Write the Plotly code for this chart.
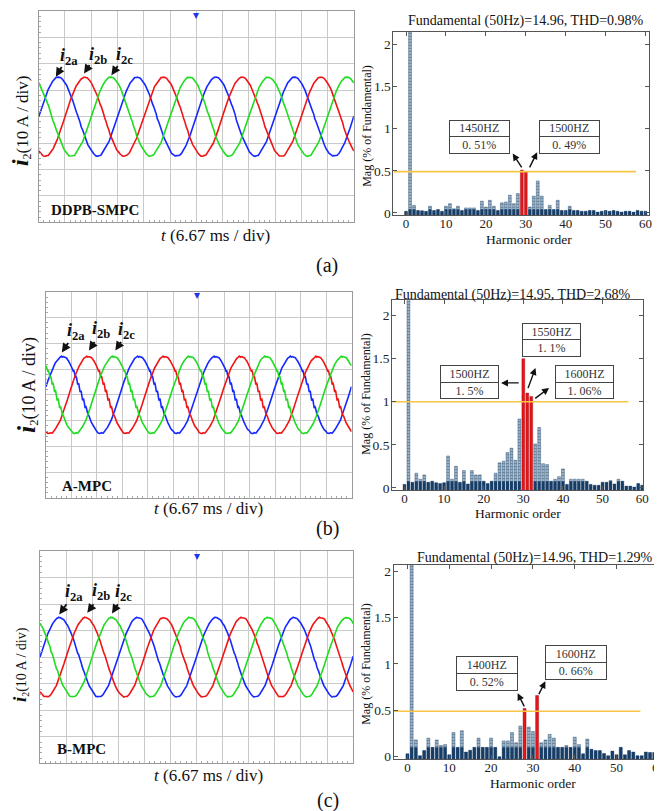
import numpy as np
import plotly.graph_objects as go

W, H = 662, 811

# ---------------- data ----------------
harmonic_order = list(range(61))

mag_a = [0.02, 100, 0.09, 0.03, 0.025, 0.02, 0.08, 0.03, 0.04, 0.02,
         0.08, 0.11, 0.05, 0.08, 0.03, 0.06, 0.06, 0.06, 0.03, 0.14,
         0.07, 0.15, 0.08, 0.03, 0.12, 0.13, 0.21, 0.11, 0.23, 0.51,
         0.49, 0.07, 0.20, 0.38, 0.20, 0.04, 0.09, 0.04, 0.15, 0.03,
         0.03, 0.08, 0.03, 0.03, 0.02, 0.02, 0.03, 0.03, 0.01, 0.02,
         0.03, 0.02, 0.03, 0.02, 0.01, 0.02, 0.02, 0.01, 0.03, 0.02, 0.02]

mag_b = [0.04, 100, 0.065, 0.17, 0.10, 0.15, 0.065, 0.077, 0.06, 0.05,
         0.06, 0.37, 0.10, 0.25, 0.065, 0.20, 0.045, 0.20, 0.15, 0.15,
         0.077, 0.05, 0.077, 0.17, 0.29, 0.31, 0.41, 0.46, 0.32, 0.80,
         1.50, 1.10, 1.06, 0.51, 0.70, 0.28, 0.27, 0.077, 0.10, 0.13,
         0.22, 0.04, 0.10, 0.10, 0.10, 0.10, 0.077, 0.04, 0.03, 0.03,
         0.065, 0.065, 0.085, 0.045, 0.10, 0.077, 0.02, 0.02, 0.01, 0.05, 0.03]

mag_c = [0.03, 100, 0.18, 0.01, 0.065, 0.20, 0.10, 0.18, 0.12, 0.13,
         0.02, 0.26, 0.10, 0.28, 0.05, 0.07, 0.10, 0.20, 0.10, 0.10,
         0.20, 0.10, 0.0, 0.17, 0.17, 0.26, 0.15, 0.33, 0.52, 0.32,
         0.27, 0.66, 0.15, 0.18, 0.24, 0.20, 0.10, 0.10, 0.12, 0.10,
         0.21, 0.13, 0.03, 0.19, 0.08, 0.065, 0.065, 0.035, 0.01, 0.06,
         0.02, 0.10, 0.02, 0.065, 0.05, 0.01, 0.01, 0.05, 0.045, 0.045, 0.045]

highlight_a = [29, 30]
highlight_b = [30, 31, 32]
highlight_c = [28, 31]

titles = ["Fundamental (50Hz)=14.96, THD=0.98%",
          "Fundamental (50Hz)=14.95, THD=2.68%",
          "Fundamental (50Hz)=14.96, THD=1.29%"]
fund_amp = [14.96, 14.95, 14.96]        # A (peak)
fund_freq = 50.0                         # Hz
phase_lead_ms = [0.0, 0.67, 0.0]         # waveform start offset read from scope
limit_level = [0.49, 1.0, 0.49]          # orange reference line (% of fund.)
limit_end = [57.6, 56.5, 55.7]           # harmonic where the line stops

callouts_a = [("1450HZ", "0. 51%"), ("1500HZ", "0. 49%")]
callouts_b = [("1550HZ", "1. 1%"), ("1500HZ", "1. 5%"), ("1600HZ", "1. 06%")]
callouts_c = [("1400HZ", "0. 52%"), ("1600HZ", "0. 66%")]

method_names = ["DDPB-SMPC", "A-MPC", "B-MPC"]
panel_tags = ["(a)", "(b)", "(c)"]
scope_time_div = 6.67   # ms/div
scope_amp_div = 10      # A/div

# ---------------- layout geometry (pixels) ----------------
def px(x0, x1):
    return [x0 / W, x1 / W]

def py(top, bottom):
    return [1 - bottom / H, 1 - top / H]

scope_box = [(31, 349, 2, 215), (38.3, 346.7, 285, 492.7), (32.3, 348.3, 546, 760)]
spec_box = [(389, 647, 23, 208), (387.7, 641, 293.3, 485), (389.3, 659.3, 560, 756)]
spec_xrange = [(-3.15, 60.9), (-3.1, 60.25), (-3.27, 60.7)]
spec_yrange = [(-0.03, 2.15), (-0.03, 2.18), (-0.03, 2.07)]
dark_floor = [0.045, 0.077, 0.10]

SERIF = "Liberation Serif"
fig = go.Figure()

# ---------------- oscilloscope panels ----------------
t = np.linspace(0, 12 * scope_time_div, 3201)   # ms
mags = [mag_a, mag_b, mag_c]
period = 1000.0 / fund_freq
colors = ["#1428ff", "#f01414", "#1edc1e"]

def phase_current(tt, k):
    A = fund_amp[k]
    w = 2 * np.pi * fund_freq / 1000.0
    y = A * np.sin(w * tt)
    for h in harmonic_order[2:]:
        ph = np.pi * h * h / 61.0
        y = y + A * mags[k][h] / 100.0 * np.sin(h * w * tt + ph)
    return y

for k in range(3):
    ax_id = 2 * k + 1
    xa = "x" if ax_id == 1 else f"x{ax_id}"
    ya = "y" if ax_id == 1 else f"y{ax_id}"
    tt = t + phase_lead_ms[k]
    for p, col in enumerate(colors):
        yv = phase_current(tt - p * period / 3.0, k)
        fig.add_trace(go.Scatter(x=t, y=yv, mode="lines",
                                 line=dict(color=col, width=1.6),
                                 xaxis=xa, yaxis=ya, showlegend=False,
                                 hoverinfo="skip"))

# ---------------- spectrum panels ----------------
hl = [highlight_a, highlight_b, highlight_c]
for k in range(3):
    ax_id = 2 * k + 2
    xa, ya = f"x{ax_id}", f"y{ax_id}"
    base = spec_yrange[k][0]
    vals = mags[k]
    cols = ["#e8141a" if h in hl[k] else "#9fbfdc" for h in harmonic_order]
    shapes_p = ["" if h in hl[k] else "-" for h in harmonic_order]
    lines_c = ["#8a0c0c" if h in hl[k] else "#1c3f66" for h in harmonic_order]
    fig.add_trace(go.Bar(x=harmonic_order, y=[v - base for v in vals], base=base,
                         width=0.72, xaxis=xa, yaxis=ya, showlegend=False,
                         marker=dict(color=cols,
                                     line=dict(color=lines_c, width=0.4),
                                     pattern=dict(shape=shapes_p, fgcolor="#2a5680",
                                                  bgcolor="#b9d0e6", size=3,
                                                  solidity=0.45)),
                         hoverinfo="skip"))
    dark = [0 if h in hl[k] else min(v, dark_floor[k]) - base
            for h, v in zip(harmonic_order, vals)]
    fig.add_trace(go.Bar(x=harmonic_order, y=dark, base=base, width=0.72,
                         xaxis=xa, yaxis=ya, showlegend=False,
                         marker=dict(color="#173d66", line=dict(width=0)),
                         hoverinfo="skip"))
    fig.add_trace(go.Scatter(x=[spec_xrange[k][0], limit_end[k]],
                             y=[limit_level[k], limit_level[k]], mode="lines",
                             line=dict(color="#f7c646", width=1.6),
                             xaxis=xa, yaxis=ya, showlegend=False, hoverinfo="skip"))

layout = dict(width=W, height=H, margin=dict(l=0, r=0, t=0, b=0),
              paper_bgcolor="white", plot_bgcolor="white", barmode="overlay",
              font=dict(family=SERIF, color="#111"))

for k in range(3):
    x0, x1, y0, y1 = scope_box[k]
    n = 2 * k + 1
    xn = "xaxis" if n == 1 else f"xaxis{n}"
    yn = "yaxis" if n == 1 else f"yaxis{n}"
    layout[xn] = dict(domain=px(x0, x1), range=[0, 12 * scope_time_div],
                      anchor="y" if n == 1 else f"y{n}",
                      dtick=scope_time_div, tick0=0, showgrid=True,
                      gridcolor="#c9c9c9", gridwidth=1, zeroline=False,
                      showticklabels=False, showline=True, mirror=True,
                      linecolor="#9a9a9a", linewidth=1, ticks="inside",
                      ticklen=0,
                      minor=dict(dtick=scope_time_div / 5, ticks="inside",
                                 ticklen=2, tickcolor="#a8a8a8", showgrid=False))
    layout[yn] = dict(domain=py(y0, y1), range=[-4 * scope_amp_div, 4 * scope_amp_div],
                      anchor="x" if n == 1 else f"x{n}",
                      dtick=scope_amp_div, tick0=0, showgrid=True,
                      gridcolor="#c9c9c9", gridwidth=1, zeroline=False,
                      showticklabels=False, showline=True, mirror=True,
                      linecolor="#9a9a9a", linewidth=1, ticks="inside",
                      ticklen=0,
                      minor=dict(dtick=scope_amp_div / 5, ticks="inside",
                                 ticklen=2, tickcolor="#a8a8a8", showgrid=False))

for k in range(3):
    x0, x1, y0, y1 = spec_box[k]
    n = 2 * k + 2
    layout[f"xaxis{n}"] = dict(domain=px(x0, x1), range=list(spec_xrange[k]),
                               anchor=f"y{n}", tickvals=list(range(0, 61, 10)),
                               showgrid=False, zeroline=False, showline=True,
                               mirror="ticks", linecolor="#555", linewidth=1,
                               ticks="inside", ticklen=4, tickcolor="#555",
                               ticklabelstandoff=-4,
                               tickfont=dict(family=SERIF, size=13, color="#222"))
    layout[f"yaxis{n}"] = dict(domain=py(y0, y1), range=list(spec_yrange[k]),
                               anchor=f"x{n}", tickvals=[0, 0.5, 1, 1.5, 2],
                               ticktext=["0", "0.5", "1", "1.5", "2"],
                               showgrid=False, zeroline=False, showline=True,
                               mirror="ticks", linecolor="#555", linewidth=1,
                               ticks="inside", ticklen=4, tickcolor="#555",
                               ticklabelstandoff=-1,
                               tickfont=dict(family=SERIF, size=13.5, color="#222"))

ann = []

def text_at(x, y, s, size, **kw):
    d = dict(x=x / W, y=1 - y / H, xref="paper", yref="paper", text=s,
             xanchor="center", yanchor="middle",
             showarrow=False, font=dict(family=SERIF, size=size, color="#111"))
    d.update(kw)
    ann.append(d)

def arrow(tail, head, width=1.6):
    ann.append(dict(x=head[0] / W, y=1 - head[1] / H, xref="paper", yref="paper",
                    ax=tail[0] - head[0], ay=tail[1] - head[1],
                    axref="pixel", ayref="pixel", text="", showarrow=True,
                    arrowhead=2, arrowsize=1, arrowwidth=width, arrowcolor="#111",
                    standoff=0, startstandoff=0))

def callout(x0, x1, top, mid, bot, t1, t2):
    cx = (x0 + x1) / 2
    for s, a, b in ((t1, top, mid), (t2, mid, bot)):
        ann.append(dict(x=cx / W, y=1 - (a + b) / 2 / H, xref="paper", yref="paper",
                        xanchor="center", yanchor="middle",
                        text=s, showarrow=False, width=x1 - x0 - 2,
                        height=b - a - 1, borderpad=0, bordercolor="#444",
                        borderwidth=1, bgcolor="white",
                        font=dict(family=SERIF, size=12, color="#333")))

# scope labels
ylab_pos = [(13, 112, 17, 24), (19, 379, 18, 26), (12, 660, 14, 19)]
xlab_pos = [(209, 228), (202.5, 503), (202.5, 772.7)]
name_pos = [(41.7, 203), (52, 480.7), (47, 746)]
tag_pos = [(322, 258), (322, 523), (323, 797)]
trig_pos = [(190, 6), (190.7, 288), (190.7, 551)]
for k in range(3):
    x, y, fs, fi = ylab_pos[k]
    text_at(x, y, f"<b><i><span style='font-size:{fi}px'>i</span></i></b>"
                  f"<sub>2</sub>(10 A / div)", fs, textangle=-90)
    text_at(*xlab_pos[k], "<i>t</i> (6.67 ms / div)", 17)
    text_at(*name_pos[k], f"<b>{method_names[k]}</b>", 15, xanchor="left")
    text_at(*tag_pos[k], panel_tags[k], 20)
    text_at(*trig_pos[k], "▾", 12, font=dict(family="DejaVu Sans", size=12,
                                               color="#2233ee"))

# phase labels and arrows
iab = [
    [((62, 48), (55, 57), (48.3, 68.3)), ((91, 47), (83.3, 55), (76.7, 65)),
     ((118, 47), (111.7, 56), (104.3, 66.7))],
    [((68.3, 325), (61.7, 335), (54.3, 346)), ((94.3, 323.3), (88.3, 334), (81.7, 344)),
     ((119.3, 324), (115, 334), (108.3, 344))],
    [((66.7, 588.3), (60, 598.3), (51.7, 610)), ((94.3, 586.7), (87.3, 598.3), (80, 608.3)),
     ((116.7, 588.3), (111.7, 598.3), (105, 609))],
]
sub = ["2a", "2b", "2c"]
for k in range(3):
    for j in range(3):
        tp, tail, head = iab[k][j]
        text_at(*tp, f"<b><i>i</i><sub>{sub[j]}</sub></b>", 18)
        arrow(tail, head, 1.8)

# spectrum labels
title_pos = [(523, 12), (510, 288.3), (531.6, 553.3)]
hx_pos = [(526, 232), (515, 508), (530, 780)]
my_pos = [(362, 118), (361, 388), (361, 660)]
for k in range(3):
    text_at(*title_pos[k], titles[k], 14)
    text_at(*hx_pos[k], "Harmonic order", 13.5)
    text_at(*my_pos[k], "Mag (% of Fundamental)", 12, textangle=-90)

# callout boxes
callout(445, 505.7, 112.7, 128.3, 145.7, *callouts_a[0])
callout(536, 596.7, 112.7, 128.3, 145.7, *callouts_a[1])
arrow((519.3, 161), (509.3, 145.7), 1.4)
arrow((525.7, 161), (534, 144.3), 1.4)

callout(519.3, 578.3, 317.3, 333.3, 350, *callouts_b[0])
callout(436, 495, 359.3, 376, 392.3, *callouts_b[1])
callout(552.7, 611.7, 359.3, 376, 392.3, *callouts_b[2])
arrow((516.7, 376.7), (497.5, 376.7), 1.4)
arrow((524.3, 383.3), (532.3, 361.7), 1.4)
arrow((530.7, 393.3), (546, 381.7), 1.4)

callout(452.7, 514.3, 652.7, 669.3, 686, *callouts_c[0])
callout(542.3, 604, 641.7, 658.3, 675.7, *callouts_c[1])
arrow((521.7, 704), (514.3, 689.3), 1.4)
arrow((535, 691.7), (542.3, 677.3), 1.4)

layout["annotations"] = ann
fig.update_layout(**layout)
fig.write_html("out.html")
